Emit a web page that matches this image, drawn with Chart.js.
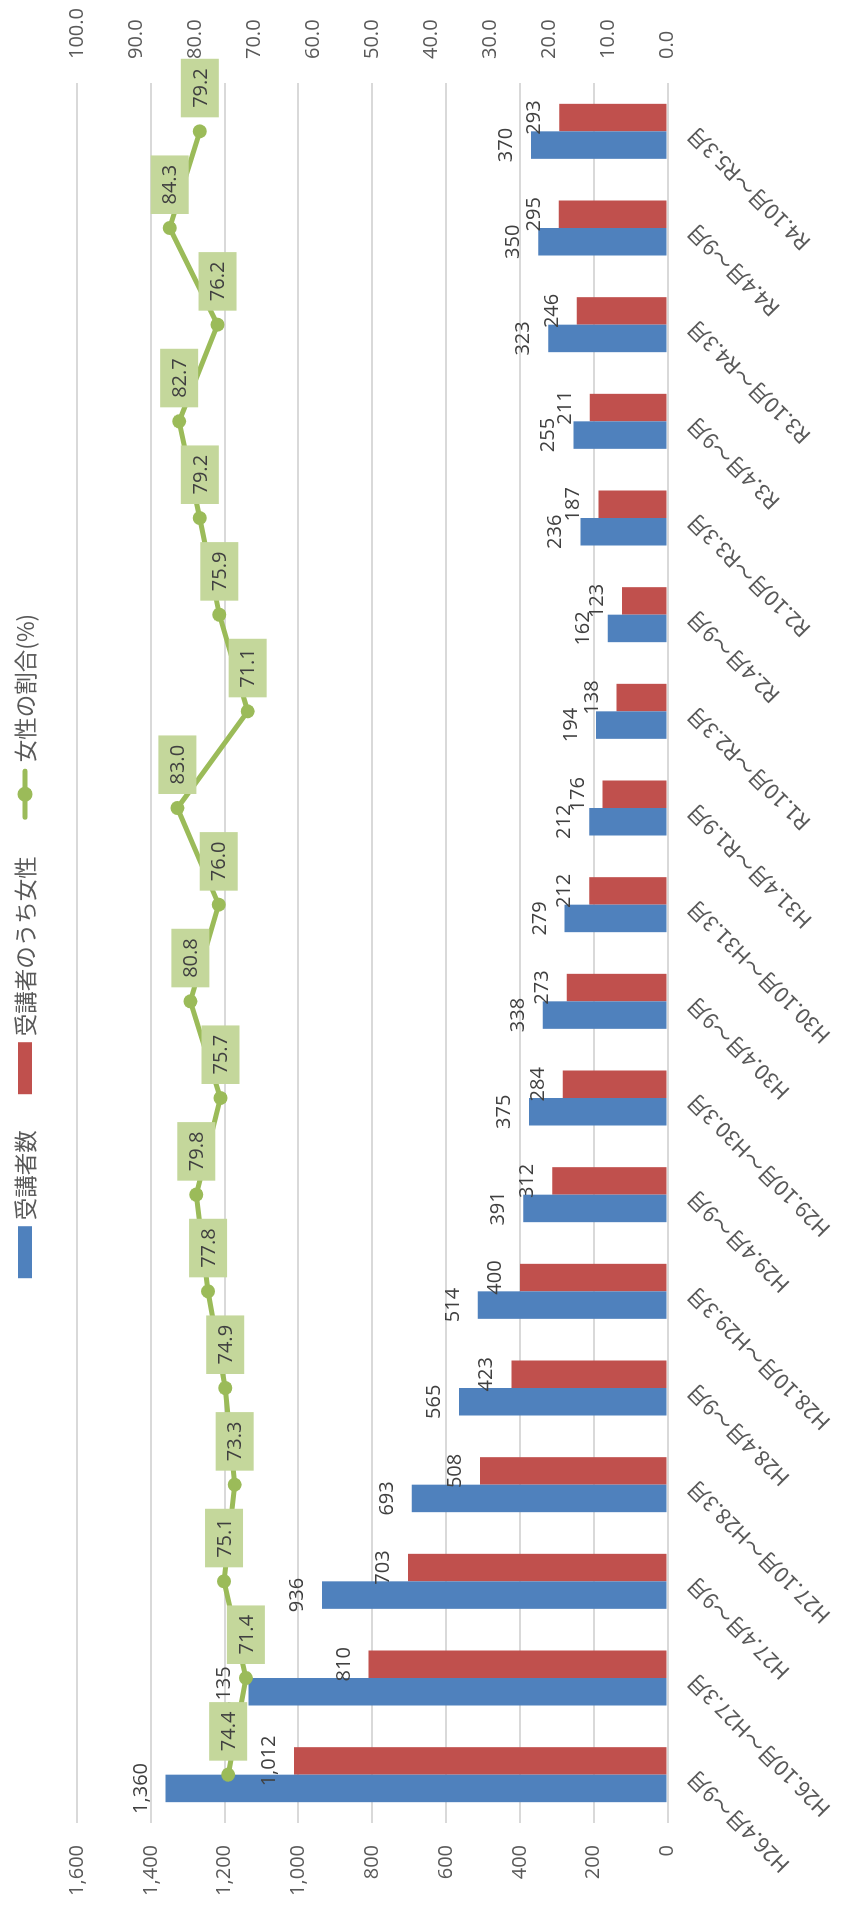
<!DOCTYPE html>
<html>
<head>
<meta charset="utf-8">
<script src="https://cdn.jsdelivr.net/npm/chart.js@4"></script>
<style>
  html, body { margin: 0; padding: 0; background: #fff; overflow: hidden; }
  /* the chart is drawn landscape and turned a quarter turn to the left */
  #wrap {
    position: absolute; left: 0; top: 0;
    width: 1911px; height: 843px;
    transform-origin: 0 0;
    transform: translate(0, 1911px) rotate(-90deg);
  }
</style>
</head>
<body>
<div id="wrap"><canvas id="chart" width="1911" height="843"></canvas></div>
<script>
var categories = [
  'H26.4月～9月', 'H26.10月～H27.3月', 'H27.4月～9月', 'H27.10月～H28.3月',
  'H28.4月～9月', 'H28.10月～H29.3月', 'H29.4月～9月', 'H29.10月～H30.3月',
  'H30.4月～9月', 'H30.10月～H31.3月', 'H31.4月～R1.9月', 'R1.10月～R2.3月',
  'R2.4月～9月', 'R2.10月～R3.3月', 'R3.4月～9月', 'R3.10月～R4.3月',
  'R4.4月～9月', 'R4.10月～R5.3月'
];
var seriesNames = ['受講者数', '受講者のうち女性', '女性の割合(%)'];
var students = [1360, 1135, 936, 693, 565, 514, 391, 375, 338, 279, 212, 194, 162, 236, 255, 323, 350, 370];
var women = [1012, 810, 703, 508, 423, 400, 312, 284, 273, 212, 176, 138, 123, 187, 211, 246, 295, 293];
var womenRate = [74.4, 71.4, 75.1, 73.3, 74.9, 77.8, 79.8, 75.7, 80.8, 76.0, 83.0, 71.1, 75.9, 79.2, 82.7, 76.2, 84.3, 79.2];
var countMax = 1600, countStep = 200;
var rateMax = 100, rateStep = 10;

var colors = ['#4f81bd', '#c0504d', '#9bbb59'];

Chart.defaults.font.family = "'Open Sans', 'Noto Sans CJK JP', sans-serif";
Chart.defaults.font.size = 20;
Chart.defaults.color = '#595959';

// value labels: numbers over the bars, boxed numbers right of the points
var valueLabels = {
  id: 'valueLabels',
  afterDatasetsDraw: function(chart){
    var ctx = chart.ctx;
    ctx.save();
    ctx.font = "20px 'Open Sans'";
    ctx.fillStyle = '#404040';
    ctx.textAlign = 'center';
    ctx.textBaseline = 'alphabetic';
    [0, 1].forEach(function(di){
      var vals = chart.data.datasets[di].data;
      chart.getDatasetMeta(di).data.forEach(function(bar, i){
        ctx.fillText(vals[i].toLocaleString('en-US'), bar.x, bar.y - 19);
      });
    });
    ctx.textAlign = 'left';
    ctx.textBaseline = 'middle';
    chart.getDatasetMeta(2).data.forEach(function(pt, i){
      var txt = womenRate[i].toFixed(1);
      var w = ctx.measureText(txt).width + 19;
      var x = pt.x + 14;
      ctx.fillStyle = '#c4d79b';
      ctx.fillRect(x, pt.y - 19, w, 38);
      ctx.fillStyle = '#404040';
      ctx.fillText(txt, x + 9.5, pt.y + 1);
    });
    ctx.restore();
  }
};

// legend along the top edge, line key drawn as line + dot
var topLegend = {
  id: 'topLegend',
  afterDraw: function(chart){
    var ctx = chart.ctx;
    var keyW = 52, gapText = 6, gapItem = 36, y = 25;
    ctx.save();
    ctx.font = "22.5px 'Noto Sans CJK JP'";
    ctx.textBaseline = 'middle';
    ctx.textAlign = 'left';
    var widths = seriesNames.map(function(n){ return ctx.measureText(n).width; });
    var total = 0;
    widths.forEach(function(w){ total += keyW + gapText + w; });
    total += gapItem * (seriesNames.length - 1);
    var x = (chart.chartArea.left + chart.chartArea.right) / 2 + 7 - total / 2;
    seriesNames.forEach(function(name, i){
      if (i < 2) {
        ctx.fillStyle = colors[i];
        ctx.fillRect(x, y - 7, keyW, 14);
      } else {
        ctx.strokeStyle = colors[i];
        ctx.lineWidth = 5;
        ctx.lineCap = 'round';
        ctx.beginPath();
        ctx.moveTo(x + 3, y);
        ctx.lineTo(x + keyW - 3, y);
        ctx.stroke();
        ctx.fillStyle = colors[i];
        ctx.beginPath();
        ctx.arc(x + keyW / 2, y, 7.5, 0, Math.PI * 2);
        ctx.fill();
      }
      ctx.fillStyle = '#595959';
      ctx.fillText(name, x + keyW + gapText, y);
      x += keyW + gapText + widths[i] + gapItem;
    });
    ctx.restore();
  }
};

new Chart(document.getElementById('chart'), {
  type: 'bar',
  data: {
    labels: categories,
    datasets: [
      {
        label: seriesNames[0], data: students, yAxisID: 'y', order: 1,
        backgroundColor: colors[0], categoryPercentage: 0.569, barPercentage: 1
      },
      {
        label: seriesNames[1], data: women, yAxisID: 'y', order: 1,
        backgroundColor: colors[1], categoryPercentage: 0.569, barPercentage: 1
      },
      {
        type: 'line', label: seriesNames[2], data: womenRate, yAxisID: 'y1', order: 0,
        borderColor: colors[2], backgroundColor: colors[2], borderWidth: 5,
        pointRadius: 7, pointHoverRadius: 7, pointBorderWidth: 0, tension: 0
      }
    ]
  },
  options: {
    responsive: false,
    animation: false,
    devicePixelRatio: 1,
    layout: { padding: { top: 77, left: 0, right: 0, bottom: 0 } },
    plugins: { legend: { display: false }, tooltip: { enabled: false } },
    scales: {
      x: {
        grid: { display: false, drawTicks: false },
        border: { display: false },
        ticks: {
          autoSkip: false, minRotation: 45, maxRotation: 45, padding: 14,
          color: '#595959', font: { family: "'Noto Sans CJK JP'", size: 21.5 }
        },
        afterFit: function(s){ s.height = 175.5; }
      },
      y: {
        position: 'left', min: 0, max: countMax,
        grid: { color: '#d9d9d9', lineWidth: 2, drawTicks: false },
        border: { display: false },
        ticks: {
          stepSize: countStep, padding: 22,
          callback: function(v){ return v.toLocaleString('en-US'); }
        },
        afterFit: function(s){ s.width = 88; }
      },
      y1: {
        position: 'right', min: 0, max: rateMax,
        grid: { display: false, drawTicks: false },
        border: { display: false },
        ticks: {
          stepSize: rateStep, padding: 24,
          callback: function(v){ return v.toFixed(1); }
        },
        afterFit: function(s){ s.width = 83; }
      }
    }
  },
  plugins: [valueLabels, topLegend]
});
</script>
</body>
</html>
